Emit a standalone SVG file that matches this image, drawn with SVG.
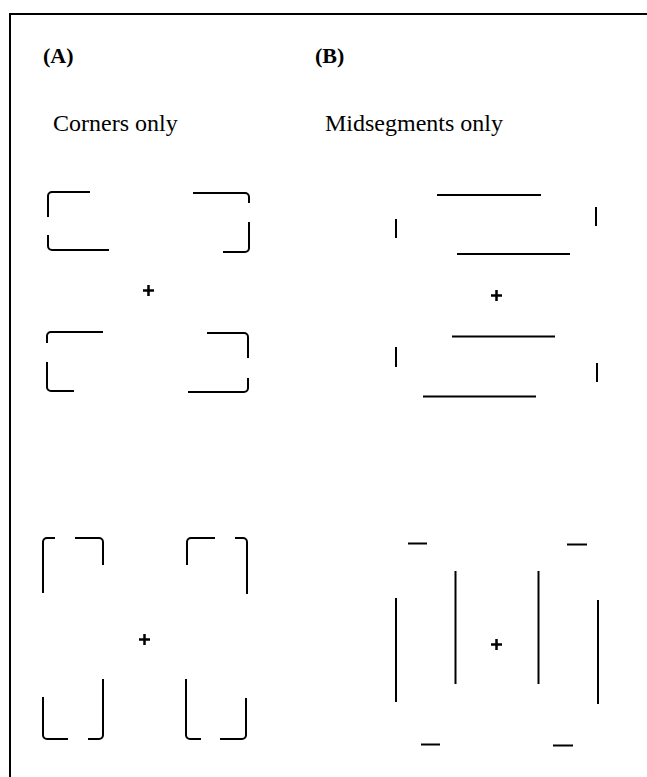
<svg xmlns="http://www.w3.org/2000/svg" width="647" height="777" viewBox="0 0 647 777">
<style>
.s{fill:none;stroke:#000;stroke-width:2;stroke-linecap:butt}
.p{fill:none;stroke:#000;stroke-width:2.5}
.f{fill:none;stroke:#000;stroke-width:2}
.h{font-family:"Liberation Serif",serif;font-weight:bold;font-size:22px;fill:#000}
.t{font-family:"Liberation Serif",serif;font-size:24px;fill:#000}
</style>
<rect width="647" height="777" fill="#fff"/>
<path class="f" d="M10,777 V14 H647"/>
<g id="labels">
<text class="h" x="43" y="63">(A)</text>
<text class="h" x="315" y="63">(B)</text>
<text class="t" x="53" y="131">Corners only</text>
<text class="t" x="325" y="131">Midsegments only</text>
</g>
<g id="A-top">
<path class="s" d="M48,217 V196 A4,4 0 0 1 52,192 H90"/>
<path class="s" d="M48,235 V246 A4,4 0 0 0 52,250 H109"/>
<path class="s" d="M193,193 H245 A4,4 0 0 1 249,197 V203"/>
<path class="s" d="M249,222 V248 A4,4 0 0 1 245,252 H223"/>
<path class="p" d="M143,290.5 H154 M148.5,285 V296"/>
<path class="s" d="M47,343 V336 A4,4 0 0 1 51,332 H103"/>
<path class="s" d="M47,362 V387 A4,4 0 0 0 51,391 H74"/>
<path class="s" d="M207,333 H244 A4,4 0 0 1 248,337 V358"/>
<path class="s" d="M248,378 V388 A4,4 0 0 1 244,392 H188"/>
</g>
<g id="A-bottom">
<path class="s" d="M43,593 V542 A4,4 0 0 1 47,538 H55"/>
<path class="s" d="M75,538 H99 A4,4 0 0 1 103,542 V565"/>
<path class="s" d="M187,565 V542 A4,4 0 0 1 191,538 H215"/>
<path class="s" d="M235,538 H243 A4,4 0 0 1 247,542 V594"/>
<path class="p" d="M139,639.5 H150 M144.5,634 V645"/>
<path class="s" d="M43,697 V735 A4,4 0 0 0 47,739 H68"/>
<path class="s" d="M88,739 H99 A4,4 0 0 0 103,735 V679"/>
<path class="s" d="M186,679 V735 A4,4 0 0 0 190,739 H201"/>
<path class="s" d="M220,739 H242 A4,4 0 0 0 246,735 V698"/>
</g>
<g id="B-top">
<path class="s" d="M437,195 H541"/>
<path class="s" d="M396,219 V238"/>
<path class="s" d="M596,207 V226"/>
<path class="s" d="M457,254 H570"/>
<path class="p" d="M491,295.5 H502 M496.5,290 V301"/>
<path class="s" d="M452,336.5 H555"/>
<path class="s" d="M396,347 V367"/>
<path class="s" d="M597,363 V382"/>
<path class="s" d="M423,396.5 H536"/>
</g>
<g id="B-bottom">
<path class="s" d="M408,543.5 H427"/>
<path class="s" d="M567,544.5 H587"/>
<path class="s" d="M396,598 V702"/>
<path class="s" d="M455.5,571 V684"/>
<path class="s" d="M538.5,571 V684"/>
<path class="s" d="M598,600 V704"/>
<path class="p" d="M491,644.5 H502 M496.5,639 V650"/>
<path class="s" d="M421,744.5 H440"/>
<path class="s" d="M553,745.5 H573"/>
</g>
</svg>
